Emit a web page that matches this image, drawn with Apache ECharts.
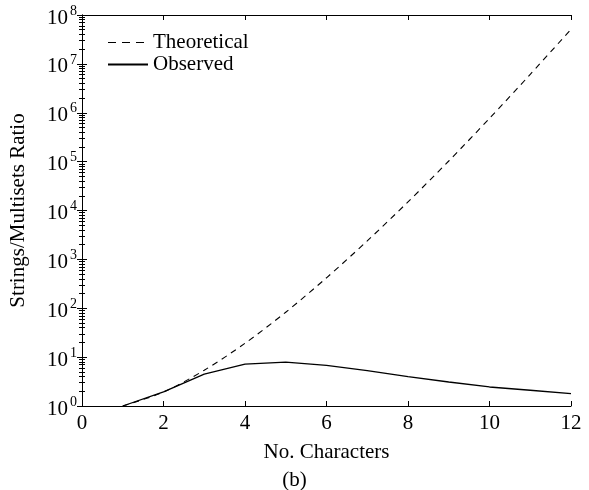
<!DOCTYPE html>
<html>
<head>
<meta charset="utf-8">
<script src="https://cdn.jsdelivr.net/npm/echarts@6/dist/echarts.min.js"></script>
<style>
  html, body { margin: 0; padding: 0; background: #fff; }
  #chart { width: 589px; height: 490px; }
</style>
</head>
<body>
<div id="chart"></div>
<script>
// No. of characters (x) and ratio values
const chars = [1, 2, 3, 4, 5, 6, 7, 8, 9, 10, 11, 12]
const theoretical = [1, 1.93, 5.4, 19.2, 83, 420, 2390, 15000, 103000, 768000, 6.1e6, 5.1e7]
const observed = [1, 1.95, 4.5, 7.2, 7.9, 6.8, 5.3, 4.0, 3.1, 2.45, 2.1, 1.8]
const xTicks = [0, 2, 4, 6, 8, 10, 12]

const font = 'Liberation Serif'
const fs = 21
const axisLine = { lineStyle: { color: '#000', width: 1 } }

const pow10 = v => {
  const e = Math.round(Math.log10(v))
  return '{b|10}{s|' + e + '}'
}

const pairs = arr => chars.map((c, i) => [c, arr[i]])

const chart = echarts.init(document.getElementById('chart'))

chart.setOption({
  animation: false,
  backgroundColor: '#fff',
  textStyle: { fontFamily: font, color: '#000' },
  grid: { left: 82, right: 18, top: 15, bottom: 84 },
  legend: {
    left: 102,
    top: 27,
    orient: 'vertical',
    itemWidth: 40,
    itemHeight: 12,
    itemGap: 1,
    itemStyle: { opacity: 0 },
    textStyle: { fontFamily: font, fontSize: fs, color: '#000' },
    data: [
      { name: 'Theoretical', lineStyle: { type: [8, 6], width: 1 } },
      { name: 'Observed' }
    ]
  },
  graphic: [{
    type: 'text',
    left: 'center',
    top: 470,
    style: { text: '(b)', font: fs + 'px "Liberation Serif"', fill: '#000', x: 43 }
  }],
  xAxis: [{
    type: 'value',
    min: xTicks[0],
    max: xTicks[xTicks.length - 1],
    interval: 2,
    name: 'No. Characters',
    nameLocation: 'middle',
    nameGap: 36,
    nameTextStyle: { fontFamily: font, fontSize: fs, color: '#000' },
    axisLine: axisLine,
    axisTick: { inside: true, length: 5, lineStyle: { color: '#000' } },
    axisLabel: { fontFamily: font, fontSize: fs, color: '#000', margin: 7 },
    splitLine: { show: false }
  }, {
    type: 'value',
    position: 'top',
    min: xTicks[0],
    max: xTicks[xTicks.length - 1],
    interval: 2,
    axisLine: axisLine,
    axisTick: { inside: true, length: 5, lineStyle: { color: '#000' } },
    axisLabel: { show: false },
    splitLine: { show: false }
  }],
  yAxis: [{
    type: 'log',
    logBase: 10,
    min: 1,
    max: 1e8,
    name: 'Strings/Multisets Ratio',
    nameLocation: 'middle',
    nameGap: 53,
    nameTextStyle: { fontFamily: font, fontSize: fs, color: '#000' },
    axisLine: axisLine,
    axisTick: { inside: true, length: 5, lineStyle: { color: '#000' } },
    minorTick: { show: true, splitNumber: 9, length: 3, lineStyle: { color: '#000' } },
    axisLabel: {
      margin: 5,
      formatter: pow10,
      rich: {
        b: { fontFamily: font, fontSize: fs, color: '#000', padding: [6, 0, 0, 0] },
        s: { fontFamily: font, fontSize: 14, color: '#000', padding: [0, 0, 8, 2] }
      }
    },
    splitLine: { show: false }
  }, {
    type: 'log',
    logBase: 10,
    min: 1,
    max: 1e8,
    position: 'right',
    axisLine: axisLine,
    axisTick: { inside: true, length: 5, lineStyle: { color: '#000' } },
    minorTick: { show: true, splitNumber: 9, length: 3, lineStyle: { color: '#000' } },
    axisLabel: { show: false },
    splitLine: { show: false }
  }],
  series: [{
    name: 'Theoretical',
    type: 'line',
    data: pairs(theoretical),
    symbol: 'none',
    smooth: 0.3,
    lineStyle: { color: '#000', width: 1.1, type: [6, 5] },
    itemStyle: { color: '#000' }
  }, {
    name: 'Observed',
    type: 'line',
    data: pairs(observed),
    symbol: 'none',
    lineStyle: { color: '#000', width: 1.3 },
    itemStyle: { color: '#000' }
  }]
})
</script>
</body>
</html>
